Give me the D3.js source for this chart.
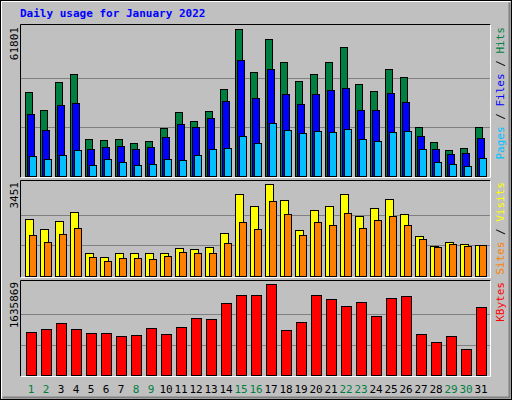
<!DOCTYPE html><html><head><meta charset="utf-8">
<script src="https://cdn.jsdelivr.net/npm/d3@7"></script>
<style>body{margin:0;background:#fff}svg{display:block}</style></head><body>
<svg id="c" width="512" height="400"></svg>
<script>
const days = d3.range(1,32);
const weekend = [1,2,8,9,15,16,22,23,29,30];
const hits = [35305,27740,39508,42871,15551,15131,15551,13870,14711,20174,26899,23117,27320,36566,61801,43711,57581,47914,39929,42871,47914,54219,38668,35726,44972,41610,20595,14290,10928,11768,20595];
const files = [25919,19334,29841,30682,11348,12189,12609,11348,12189,16392,21856,20595,24377,31523,48755,32783,44972,34465,30262,34465,36146,36986,27740,27740,34885,31102,16812,11348,9247,9667,15971];
const pages = [8406,7145,8826,10928,4623,7145,5884,4623,5044,7145,6725,8826,11348,11768,16812,13870,22276,19334,18073,18914,18493,19754,15551,14711,18493,18914,11348,5884,5044,4203,7565];
const visits = [2151,1776,2076,2413,875,725,875,875,875,875,1063,1025,1100,1626,3088,2638,3451,2863,1738,2488,2638,3088,2263,2563,2901,2338,1513,1138,1288,1213,1175];
const sites = [1550,1288,1588,1813,725,575,688,688,650,763,913,875,875,1250,2038,1776,2826,2338,1550,2038,1926,2376,1813,2113,2263,1926,1400,1100,1213,1138,1175];
const kbytes = [773000,826924,934783,826924,755017,755017,701087,719064,844900,737041,862877,1024666,1006690,1294315,1438128,1438128,1635869,808947,952760,1438128,1366222,1240385,1312292,1060619,1384199,1420152,737041,593228,701087,467392,1222409];

const svg = d3.select('#c');
const F = "'DejaVu Sans Mono', monospace";
// background + bevel
svg.append('rect').attr('x',0).attr('y',0).attr('width',512).attr('height',400).attr('fill','#c0c0c0');
svg.append('rect').attr('x',0.5).attr('y',0.5).attr('width',511).attr('height',399).attr('fill','none').attr('stroke','#000');
svg.append('path').attr('d','M1.5,398.5V1.5H510.5').attr('stroke','#fff').attr('fill','none');
svg.append('path').attr('d','M2.5,397.5H509.5V2.5').attr('stroke','#808080').attr('fill','none').attr('stroke-width',2);
svg.append('text').attr('x',20).attr('y',17).attr('font-family',F).attr('font-size',11).attr('font-weight','bold').attr('fill','#0000ff').text('Daily usage for January 2022');

const x = d3.scaleLinear().domain([1,31]).range([25,475]);

function panel(y0,y1,top,max,labels){
  svg.append('path').attr('d',`M20.5,${y1+0.5}V${y0+0.5}H490.5`).attr('stroke','#000').attr('fill','none');
  svg.append('path').attr('d',`M20.5,${y1+0.5}H490.5V${y0+0.5}`).attr('stroke','#fff').attr('fill','none');
  const y = d3.scaleLinear().domain([0,max]).range([y1-1,top]);
  [max/3,2*max/3].forEach(v=>svg.append('line').attr('x1',21).attr('x2',490).attr('y1',Math.round(y(v))+0.5).attr('y2',Math.round(y(v))+0.5).attr('stroke','#808080'));
  svg.append('text').attr('transform',`translate(18,${top-2}) rotate(-90)`).attr('text-anchor','end').attr('font-family',F).attr('font-size',11).attr('fill','#000').text(d3.format('d')(max));
  // right labels, bottom-to-top
  const t = svg.append('text').attr('transform',`translate(504,${top-2}) rotate(-90)`).attr('text-anchor','end').attr('font-family',F).attr('font-size',11);
  labels.forEach((l,i)=>{ if(i) t.append('tspan').attr('fill','#000').text(' / '); t.append('tspan').attr('fill',l[1]).text(l[0]); });
  return y;
}
function bars(y,data,off,w,color){
  svg.append('g').selectAll('rect').data(data).join('rect')
    .attr('x',(d,i)=>Math.round(x(days[i]))+off+0.5).attr('y',d=>Math.round(y(d))+0.5)
    .attr('width',w).attr('height',d=>Math.max(0,Math.round(y(0))-Math.round(y(d))))
    .attr('fill',color).attr('stroke','#000');
}
const y1 = panel(24,177,29,61801,[['Pages','#00c0ff'],['Files','#0000ff'],['Hits','#008040']]);
bars(y1,hits,0,7,'#008040'); bars(y1,files,2,7,'#0000ff'); bars(y1,pages,4,7,'#00c0ff');
const y2 = panel(180,277,184,3451,[['Sites','#ff8000'],['Visits','#ffff00']]);
bars(y2,visits,0,8,'#ffff00'); bars(y2,sites,4,7,'#ff8000');
const y3 = panel(280,376,284,1635869,[['KBytes','#ff0000']]);
bars(y3,kbytes,1,10,'#ff0000');

svg.append('g').selectAll('text').data(days).join('text')
  .attr('x',d=>x(d)+6).attr('y',393).attr('text-anchor','middle').attr('font-family',F).attr('font-size',11)
  .attr('fill',d=>weekend.includes(d)?'#008040':'#000').text(d=>d);
</script></body></html>
